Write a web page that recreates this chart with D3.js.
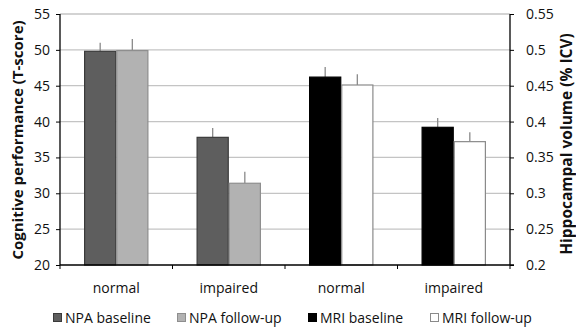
<!DOCTYPE html>
<head>
  <meta charset="utf-8">
  <script src="https://d3js.org/d3.v7.min.js"></script>
  <style>
    body { margin:0; background:#fff; }
    text { font-family: "Open Sans", "Liberation Sans", sans-serif; fill:#111; }
  </style>
</head>
<body>
<script>

  // data
  var categories = ["normal", "impaired", "normal", "impaired"];
  var seriesNames = ["NPA baseline", "NPA follow-up", "MRI baseline", "MRI follow-up"];
  // NPA groups use the left axis (T-score), MRI groups the right one (% ICV)
  var npaBaseline = [49.8, 37.8];
  var npaBaselineErr = [1.2, 1.3];
  var npaFollowup = [49.9, 31.4];
  var npaFollowupErr = [1.6, 1.6];
  var mriBaseline = [0.462, 0.392];
  var mriBaselineErr = [0.014, 0.013];
  var mriFollowup = [0.451, 0.372];
  var mriFollowupErr = [0.015, 0.013];
  var leftTicks = [20, 25, 30, 35, 40, 45, 50, 55];
  var rightTicks = [0.2, 0.25, 0.3, 0.35, 0.4, 0.45, 0.5, 0.55];

  var fills = ["#5e5e5e", "#b2b2b2", "#000000", "#ffffff"];
  var strokes = ["#3a3a3a", "#8e8e8e", "#000000", "#8a8a8a"];

  var width = 576, height = 327;
  var plotLeft = 60, plotRight = 510, plotTop = 14, plotBottom = 265;

  var svg = d3.select("body").append("svg")
    .attr("width", width)
    .attr("height", height);

  var x = d3.scaleBand().domain(d3.range(categories.length)).range([plotLeft, plotRight]).padding(0);
  var yL = d3.scaleLinear().domain([20, 55]).range([plotBottom, plotTop]);
  var yR = d3.scaleLinear().domain([0.2, 0.55]).range([plotBottom, plotTop]);

  // gridlines
  svg.append("g").selectAll("line")
    .data(leftTicks.slice(1))
    .enter().append("line")
    .attr("x1", plotLeft).attr("x2", plotRight)
    .attr("y1", function(d) { return yL(d); })
    .attr("y2", function(d) { return yL(d); })
    .style("stroke", "#c4c4c4")
    .style("stroke-width", 1.3);

  // build bars: each group holds two bars
  var bars = [];
  for (var i = 0; i < 2; i++) {
    bars.push({ g: i, s: 0, v: npaBaseline[i], e: npaBaselineErr[i], y: yL });
    bars.push({ g: i, s: 1, v: npaFollowup[i], e: npaFollowupErr[i], y: yL });
    bars.push({ g: i + 2, s: 2, v: mriBaseline[i], e: mriBaselineErr[i], y: yR });
    bars.push({ g: i + 2, s: 3, v: mriFollowup[i], e: mriFollowupErr[i], y: yR });
  }

  // Excel-like gap width 150%
  var bw = x.bandwidth() / 3.5;
  var inner = d3.scaleBand().domain([0, 1]).range([bw * 0.75, bw * 2.75]);

  function barX(d) { return x(d.g) + inner(d.s % 2); }

  // error bars (drawn first, bar covers lower half)
  svg.append("g").selectAll("line")
    .data(bars)
    .enter().append("line")
    .attr("x1", function(d) { return barX(d) + bw / 2; })
    .attr("x2", function(d) { return barX(d) + bw / 2; })
    .attr("y1", function(d) { return d.y(d.v); })
    .attr("y2", function(d) { return d.y(d.v + d.e); })
    .style("stroke", "#8a8a8a")
    .style("stroke-width", 1.3);

  svg.append("g").selectAll("rect")
    .data(bars)
    .enter().append("rect")
    .attr("x", function(d) { return barX(d) + 0.5; })
    .attr("width", bw - 1)
    .attr("y", function(d) { return d.y(d.v); })
    .attr("height", function(d) { return plotBottom - d.y(d.v); })
    .style("fill", function(d) { return fills[d.s]; })
    .style("stroke", function(d) { return strokes[d.s]; })
    .style("stroke-width", 1.2);

  // axes
  var axL = d3.axisLeft(yL).tickValues(leftTicks).tickSize(4).tickPadding(6);
  var gL = svg.append("g").attr("transform", "translate(" + plotLeft + ",0)").call(axL);
  var axR = d3.axisRight(yR).tickValues(rightTicks).tickSize(4).tickPadding(12)
    .tickFormat(function(d) { return String(+d.toFixed(2)); });
  var gR = svg.append("g").attr("transform", "translate(" + plotRight + ",0)").call(axR);

  [gL, gR].forEach(function(g) {
    g.select(".domain").attr("d", "M0," + plotTop + "V" + plotBottom)
      .style("stroke", "#000").style("stroke-width", 1.3);
    g.selectAll(".tick line").style("stroke", "#000");
    g.selectAll(".tick text").attr("font-size", 14).style("font-family", "'Open Sans', sans-serif").style("fill", "#111");
  });

  // x axis
  svg.append("line")
    .attr("x1", plotLeft).attr("x2", plotRight + 4)
    .attr("y1", plotBottom).attr("y2", plotBottom)
    .style("stroke", "#000").style("stroke-width", 1.3);

  svg.append("g").selectAll("line")
    .data(d3.range(categories.length + 1))
    .enter().append("line")
    .attr("x1", function(d) { return plotLeft + d * x.bandwidth(); })
    .attr("x2", function(d) { return plotLeft + d * x.bandwidth(); })
    .attr("y1", plotBottom).attr("y2", plotBottom + 4)
    .style("stroke", "#000");

  svg.append("g").selectAll("text")
    .data(categories)
    .enter().append("text")
    .attr("x", function(d, i) { return x(i) + x.bandwidth() / 2; })
    .attr("y", 293)
    .attr("text-anchor", "middle")
    .attr("font-size", 14)
    .text(function(d) { return d; });

  // axis titles
  svg.append("text")
    .attr("transform", "translate(23,140) rotate(-90)")
    .attr("text-anchor", "middle")
    .attr("font-size", 15)
    .attr("font-weight", "bold")
    .text("Cognitive performance (T-score)");

  svg.append("text")
    .attr("transform", "translate(572,144) rotate(-90)")
    .attr("text-anchor", "middle")
    .attr("font-size", 15.5)
    .attr("font-weight", "bold")
    .text("Hippocampal volume (% ICV)");

  // legend
  var legendX = [53, 177, 308, 430];
  var lg = svg.append("g").selectAll("g")
    .data(seriesNames)
    .enter().append("g")
    .attr("transform", function(d, i) { return "translate(" + legendX[i] + ",313)"; });

  lg.append("rect")
    .attr("x", 0.5).attr("y", 0.5)
    .attr("width", 8).attr("height", 8)
    .style("fill", function(d, i) { return fills[i]; })
    .style("stroke", function(d, i) { return strokes[i]; });

  lg.append("text")
    .attr("x", 12)
    .attr("y", 9.5)
    .attr("font-size", 14)
    .text(function(d) { return d; });

</script>
</body>
